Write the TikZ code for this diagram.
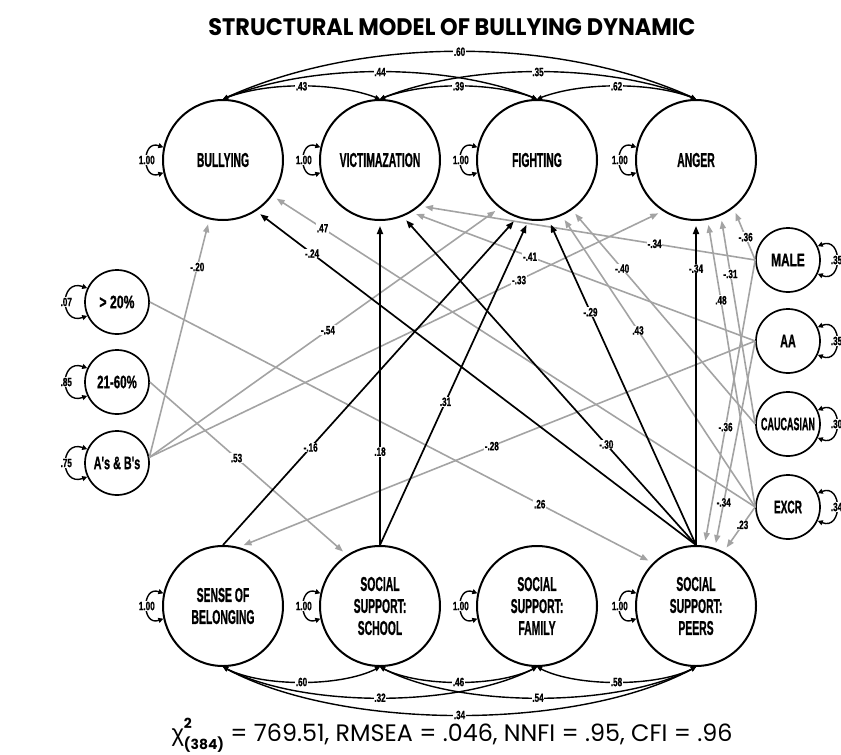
\documentclass[tikz,border=0pt]{standalone}
\usepackage{fontspec}
\setmainfont{Liberation Sans}
\newfontfamily\titlefont{Poppins}
\newfontfamily\grkfont{Liberation Sans}
\newfontface\condb[FakeBold=1.2]{Liberation Sans Bold}
\usetikzlibrary{arrows.meta}
\definecolor{lg}{gray}{0.64}
\newcommand{\nm}[1]{\scalebox{0.52}[1]{#1}}
\newcommand{\cf}[1]{\scalebox{0.68}[1]{#1}}
\newcommand{\sm}[2]{\scalebox{#1}[1]{#2}}
\begin{document}
\begin{tikzpicture}[x=1pt,y=-1pt,
  lat/.style={circle,draw,line width=2pt,minimum size=120pt,inner sep=0pt,align=center,
    font=\fontsize{20}{22}\selectfont\condb},
  obs/.style={circle,draw,line width=1.7pt,minimum size=64pt,inner sep=0pt,
    font=\fontsize{18}{18}\selectfont\condb},
  blk/.style={line width=1.7pt,-{Triangle[length=8pt,width=6pt]},shorten >=5pt},
  gry/.style={line width=1.6pt,draw=lg,-{Triangle[length=8pt,width=6pt]},shorten >=5pt},
  coef/.style={fill=white,text=black,inner sep=0.6pt,font=\fontsize{12}{12}\selectfont\condb},
  cov/.style={line width=1.4pt,{Triangle[length=5pt,width=4.5pt]}-{Triangle[length=5pt,width=4.5pt]}},
  lp/.style={line width=1.4pt,{Triangle[length=5pt,width=5pt]}-{Triangle[length=5pt,width=5pt]}},
]
\useasboundingbox (0,0) rectangle (841,755);

% title
\node (title) at (452,27) {\resizebox{487pt}{17pt}{\titlefont\bfseries STRUCTURAL MODEL OF BULLYING DYNAMIC}};

% latent factors
\node[lat] (bully)  at (223,160) {\nm{BULLYING}};
\node[lat] (victim) at (380,160) {\nm{VICTIMAZATION}};
\node[lat] (fight)  at (537,160) {\nm{FIGHTING}};
\node[lat] (anger)  at (696,160) {\nm{ANGER}};
\node[lat] (sense)  at (223,606) {\nm{SENSE OF}\\\nm{BELONGING}};
\node[lat] (school) at (380,606) {\nm{SOCIAL}\\\nm{SUPPORT:}\\\nm{SCHOOL}};
\node[lat] (family) at (537,606) {\nm{SOCIAL}\\\nm{SUPPORT:}\\\nm{FAMILY}};
\node[lat] (peers)  at (696,606) {\nm{SOCIAL}\\\nm{SUPPORT:}\\\nm{PEERS}};

% observed
\node[obs] (g20)   at (117,302) {\sm{0.68}{> 20\%}};
\node[obs] (g2160) at (117,382) {\sm{0.64}{21-60\%}};
\node[obs] (gab)   at (117,463) {\sm{0.6}{A's \& B's}};
\node[obs] (male)  at (788,260) {\sm{0.66}{MALE}};
\node[obs] (aa)    at (788,341) {\sm{0.6}{AA}};
\node[obs] (cauc)  at (788,424) {\sm{0.5}{CAUCASIAN}};
\node[obs] (excr)  at (788,507) {\sm{0.56}{EXCR}};

% gray paths
\draw[gry] (gab.10) -- (bully.-103) node[coef,pos=0.80]{\cf{-.20}};
\draw[gry] (gab.10) -- (fight.-128) node[coef,pos=0.51]{\cf{-.54}};
\draw[gry] (gab.10) -- (anger.-123) node[coef,pos=0.72]{\cf{-.33}};
\draw[gry] (g2160.east) -- (school.123) node[coef,pos=0.44]{\cf{.53}};
\draw[gry] (g20.east) -- (peers.135) node[coef,pos=0.775]{\cf{.26}};
\draw[gry] (aa.west) -- (sense.75) node[coef,pos=0.51]{\cf{-.28}};
\draw[gry] (male.west) -- (victim.-49) node[coef,pos=0.30]{\cf{-.34}};
\draw[gry] (aa.west) -- (victim.-59) node[coef,pos=0.655]{\cf{-.41}};
\draw[gry] (cauc.west) -- (fight.-55) node[coef,pos=0.726]{\cf{-.40}};
\draw[gry] (excr.west) -- (fight.-66) node[coef,pos=0.606]{\cf{.43}};
\draw[gry] (excr.west) -- (bully.-36) node[coef,pos=0.896]{\cf{.47}};
\draw[gry] (excr.west) -- (anger.-79) node[coef,pos=0.72]{\cf{.48}};
\draw[gry] (cauc.west) -- (anger.-66) node[coef,pos=0.72]{\cf{-.31}};
\draw[gry] (male.west) -- (anger.-52) node[coef,pos=0.44]{\cf{-.36}};
\draw[gry] (male.west) -- (peers.82) node[coef,pos=0.585]{\cf{-.36}};
\draw[gry] (aa.west) -- (peers.72) node[coef,pos=0.78]{\cf{-.34}};
\draw[gry] (excr.west) -- (peers.63) node[coef,pos=0.40]{\cf{.23}};

% black paths
\draw[blk] (peers.north) -- (bully.-57) node[coef,pos=0.873]{\cf{-.24}};
\draw[blk] (peers.north) -- (victim.-68) node[coef,pos=0.306]{\cf{-.30}};
\draw[blk] (peers.north) -- (fight.-79) node[coef,pos=0.716]{\cf{-.29}};
\draw[blk] (peers.north) -- (anger.south) node[coef,pos=0.853]{\cf{-.34}};
\draw[blk] (school.north) -- (victim.south) node[coef,pos=0.288]{\cf{.18}};
\draw[blk] (school.north) -- (fight.-98) node[coef,pos=0.441]{\cf{.31}};
\draw[blk] (sense.north) -- (fight.-109) node[coef,pos=0.298]{\cf{-.16}};

% top covariances
\draw[cov] (bully.north) .. controls +(45,-17) and +(-45,-17) .. (victim.north) node[coef,midway]{\cf{.43}};
\draw[cov] (victim.north) .. controls +(45,-17) and +(-45,-17) .. (fight.north) node[coef,midway]{\cf{.39}};
\draw[cov] (fight.north) .. controls +(45,-17) and +(-45,-17) .. (anger.north) node[coef,midway]{\cf{.62}};
\draw[cov] (bully.north) .. controls +(90,-36) and +(-90,-36) .. (fight.north) node[coef,midway]{\cf{.44}};
\draw[cov] (victim.north) .. controls +(90,-36) and +(-90,-36) .. (anger.north) node[coef,midway]{\cf{.35}};
\draw[cov] (bully.north) .. controls +(140,-63) and +(-140,-63) .. (anger.north) node[coef,midway]{\cf{.60}};

% bottom covariances
\draw[cov] (sense.south) .. controls +(40,20) and +(-40,20) .. (school.south) node[coef,midway]{\cf{.60}};
\draw[cov] (school.south) .. controls +(40,20) and +(-40,20) .. (family.south) node[coef,midway]{\cf{.46}};
\draw[cov] (family.south) .. controls +(40,20) and +(-40,20) .. (peers.south) node[coef,midway]{\cf{.58}};
\draw[cov] (sense.south) .. controls +(80,41) and +(-80,41) .. (family.south) node[coef,midway]{\cf{.32}};
\draw[cov] (school.south) .. controls +(80,41) and +(-80,41) .. (peers.south) node[coef,midway]{\cf{.54}};
\draw[cov] (sense.south) .. controls +(120,64) and +(-120,64) .. (peers.south) node[coef,midway]{\cf{.34}};

% self loops
\foreach \n in {bully,victim,fight,anger,sense,school,family,peers}
  \draw[lp] (\n.168) .. controls +(-22,-8) and +(-22,8) .. (\n.192) node[coef,midway]{\cf{1.00}};
\draw[lp] (g20.155) .. controls +(-28,-10) and +(-28,10) .. (g20.205) node[coef,midway]{\cf{.07}};
\draw[lp] (g2160.155) .. controls +(-28,-10) and +(-28,10) .. (g2160.205) node[coef,midway]{\cf{.85}};
\draw[lp] (gab.155) .. controls +(-28,-10) and +(-28,10) .. (gab.205) node[coef,midway]{\cf{.75}};
\draw[lp] (male.25) .. controls +(25,-10) and +(25,10) .. (male.-25) node[coef,midway]{\cf{.35}};
\draw[lp] (aa.25) .. controls +(25,-10) and +(25,10) .. (aa.-25) node[coef,midway]{\cf{.35}};
\draw[lp] (cauc.25) .. controls +(25,-10) and +(25,10) .. (cauc.-25) node[coef,midway]{\cf{.30}};
\draw[lp] (excr.25) .. controls +(25,-10) and +(25,10) .. (excr.-25) node[coef,midway]{\cf{.34}};

% fit statistics
\node (fit) at (452,735) {\resizebox{561pt}{!}{\fontsize{24}{24}\titlefont{\grkfont χ}\rlap{\raisebox{1.0ex}{\fontsize{14}{14}\selectfont\bfseries 2}}\raisebox{-0.6ex}{\fontsize{14}{14}\selectfont\bfseries (384)} = 769.51, RMSEA = .046, NNFI = .95, CFI = .96}};
\end{tikzpicture}
\end{document}
